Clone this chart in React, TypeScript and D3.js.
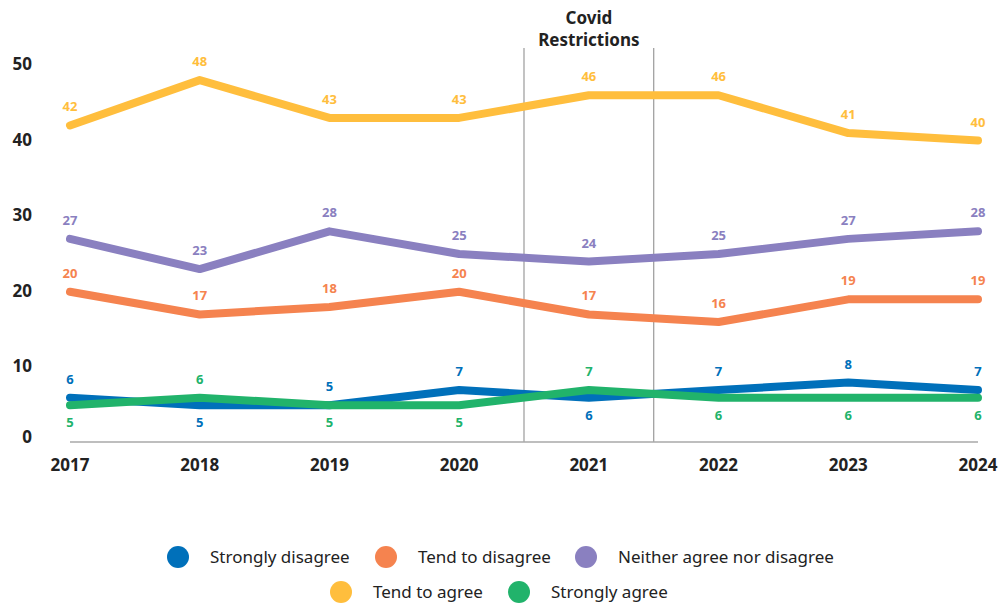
import React from "react";
import * as d3 from "d3";

const years = ["2017", "2018", "2019", "2020", "2021", "2022", "2023", "2024"];
const stronglyDisagree = [6, 5, 5, 7, 6, 7, 8, 7];
const tendToDisagree = [20, 17, 18, 20, 17, 16, 19, 19];
const neither = [27, 23, 28, 25, 24, 25, 27, 28];
const tendToAgree = [42, 48, 43, 43, 46, 46, 41, 40];
const stronglyAgree = [5, 6, 5, 5, 7, 6, 6, 6];
const yTicks = [0, 10, 20, 30, 40, 50];
const covidYears = ["2021"];

const series = [
  { name: "Strongly disagree", values: stronglyDisagree, color: "#0070BA" },
  { name: "Tend to disagree", values: tendToDisagree, color: "#F5834F" },
  { name: "Neither agree nor disagree", values: neither, color: "#8A80C0" },
  { name: "Tend to agree", values: tendToAgree, color: "#FFBE3D" },
  { name: "Strongly agree", values: stronglyAgree, color: "#21B36B" },
];

const FONT = "'Noto Sans', 'Open Sans', sans-serif";
const DARK = "#222222";

export default function App() {
  const W = 1003, H = 608;
  const x = d3.scalePoint<string>().domain(years).range([70, 978]);
  const y = d3.scaleLinear().domain([0, 50]).range([443, 65]);
  const line = d3
    .line<number>()
    .x((_, i) => x(years[i]) as number)
    .y((v) => y(v));
  const step = x.step();

  // the two lowest series share space: the smaller value's label goes below
  const labelBelow = (si: number, i: number) => {
    if (si === 0) return stronglyDisagree[i] < stronglyAgree[i];
    if (si === 4) return stronglyAgree[i] <= stronglyDisagree[i];
    return false;
  };

  const legendRow1 = series.slice(0, 3);
  const legendRow2 = series.slice(3);
  const row1X = [178, 386, 586];
  const row2X = [341, 519];

  return (
    <svg width={W} height={H} style={{ position: "absolute", left: 0, top: 0 }} fontFamily={FONT}>
      {covidYears.map((cy) => {
        const cx = x(cy) as number;
        return (
          <g key={cy}>
            <line x1={cx - step / 2} x2={cx - step / 2} y1={48} y2={442} stroke="#9a9a9a" strokeWidth={1.2} />
            <line x1={cx + step / 2} x2={cx + step / 2} y1={48} y2={442} stroke="#9a9a9a" strokeWidth={1.2} />
            <text x={cx} y={24} textAnchor="middle" fontSize={17} fontWeight={700} fill={DARK}>Covid</text>
            <text x={cx} y={46} textAnchor="middle" fontSize={17} fontWeight={700} fill={DARK}>Restrictions</text>
          </g>
        );
      })}
      <line x1={x(years[0])} x2={x(years[years.length - 1])} y1={442} y2={442} stroke="#a8a8a8" strokeWidth={1.5} />
      {yTicks.map((t) => (
        <text key={t} x={32} y={y(t) + (t === 0 ? 0 : 5)} textAnchor="end" fontSize={17} fontWeight={700} fill={DARK}>
          {t}
        </text>
      ))}
      {years.map((yr) => (
        <text key={yr} x={x(yr)} y={471} textAnchor="middle" fontSize={17} fontWeight={700} fill={DARK}>
          {yr}
        </text>
      ))}
      {series.map((s) => (
        <path key={s.name} d={line(s.values) || ""} fill="none" stroke={s.color} strokeWidth={8} strokeLinecap="round" strokeLinejoin="round" />
      ))}
      {series.map((s, si) =>
        s.values.map((v, i) => {
          const below = labelBelow(si, i);
          return (
            <text
              key={s.name + i}
              x={x(years[i])}
              y={y(v) + (below ? 22 : -14)}
              textAnchor="middle"
              fontSize={13}
              fontWeight={700}
              fill={s.color}
            >
              {v}
            </text>
          );
        })
      )}
      {legendRow1.map((s, i) => (
        <g key={s.name}>
          <circle cx={row1X[i]} cy={557} r={11} fill={s.color} />
          <text x={row1X[i] + 32} y={563} fontSize={17} fill={DARK}>{s.name}</text>
        </g>
      ))}
      {legendRow2.map((s, i) => (
        <g key={s.name}>
          <circle cx={row2X[i]} cy={592} r={11} fill={s.color} />
          <text x={row2X[i] + 32} y={598} fontSize={17} fill={DARK}>{s.name}</text>
        </g>
      ))}
    </svg>
  );
}
